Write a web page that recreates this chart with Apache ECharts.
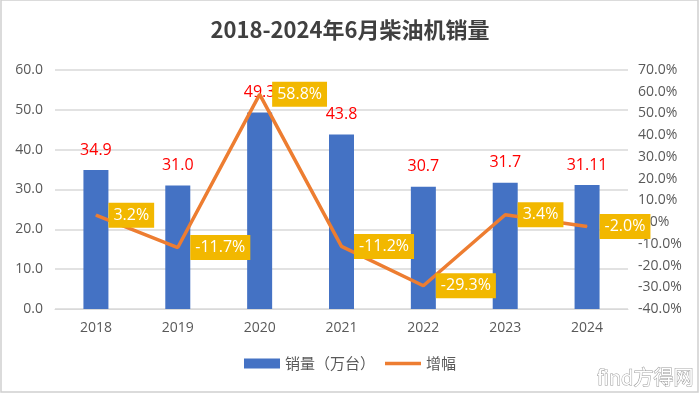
<!DOCTYPE html>
<html lang="zh-cn">
<head>
    <meta charset="utf-8">
    <title>2018-2024年6月柴油机销量</title>
    <style>
        html, body { margin: 0; padding: 0; background: #fff; }
        #main { width: 700px; height: 396px; }
    </style>
</head>
<body>
<div id="main"></div>
<script src="https://cdn.jsdelivr.net/npm/echarts@6/dist/echarts.min.js"></script>
<script type="text/javascript">
    // 数据
    var years = ['2018', '2019', '2020', '2021', '2022', '2023', '2024'];
    var salesData = [34.9, 31.0, 49.3, 43.8, 30.7, 31.7, 31.11];
    var salesLabels = ['34.9', '31.0', '49.3', '43.8', '30.7', '31.7', '31.11'];
    var growthData = [3.2, -11.7, 58.8, -11.2, -29.3, 3.4, -2.0];

    var font = 'Open Sans, Noto Sans CJK SC, sans-serif';
    var gray = '#595959';

    var myChart = echarts.init(document.getElementById('main'));
    var option = {
        animation: false,
        title: {
            text: '2018-2024年6月柴油机销量',
            left: 'center',
            top: 14,
            textStyle: {
                fontFamily: 'Noto Sans CJK SC, sans-serif',
                fontSize: 22,
                fontWeight: 'bold',
                color: '#404040'
            }
        },
        grid: { left: 55, right: 72, top: 70, bottom: 87 },
        legend: {
            bottom: 20,
            left: 'center',
            itemGap: 10,
            textStyle: { color: gray, fontSize: 15, fontFamily: 'Noto Sans CJK SC, sans-serif' },
            data: [
                { name: '销量（万台）', icon: 'rect', itemStyle: { color: '#4472C4' } },
                { name: '增幅', icon: 'path://M0,0H36V3.5H0Z', itemStyle: { color: '#ED7D31' } }
            ],
            itemWidth: 36,
            itemHeight: 10
        },
        xAxis: {
            type: 'category',
            data: years,
            axisLine: { lineStyle: { color: '#d9d9d9', width: 1 } },
            axisTick: { show: false },
            axisLabel: { color: gray, fontSize: 14, fontFamily: font, margin: 12 }
        },
        yAxis: [
            {
                type: 'value',
                min: 0,
                max: 60,
                interval: 10,
                axisLabel: {
                    color: gray, fontSize: 14, fontFamily: font, margin: 12,
                    formatter: function (v) { return v.toFixed(1); }
                },
                splitLine: { lineStyle: { color: '#d9d9d9', width: 1.5 } }
            },
            {
                type: 'value',
                min: -40,
                max: 70,
                interval: 10,
                axisLabel: {
                    color: gray, fontSize: 14, fontFamily: font, margin: 10,
                    formatter: function (v) { return v.toFixed(1) + '%'; }
                },
                splitLine: { show: false }
            }
        ],
        series: [
            {
                name: '销量（万台）',
                type: 'bar',
                data: salesData,
                barWidth: 25,
                itemStyle: { color: '#4472C4' },
                label: {
                    show: true,
                    position: 'top',
                    distance: 12,
                    color: '#FF0000',
                    fontSize: 16,
                    fontFamily: font,
                    formatter: function (p) { return salesLabels[p.dataIndex]; }
                },
                z: 2
            },
            {
                name: '增幅',
                type: 'line',
                yAxisIndex: 1,
                data: growthData,
                symbol: 'circle',
                symbolSize: 1,
                showSymbol: true,
                lineStyle: { color: '#ED7D31', width: 3.5 },
                itemStyle: { color: '#ED7D31' },
                label: {
                    show: true,
                    position: 'right',
                    distance: 12,
                    color: '#fff',
                    fontSize: 16,
                    fontFamily: font,
                    backgroundColor: '#F2B800',
                    padding: [5, 5, 4, 5],
                    formatter: function (p) { return p.value.toFixed(1) + '%'; }
                },
                z: 5
            }
        ],
        graphic: [
            {
                type: 'rect',
                shape: { x: 1, y: 0, width: 697, height: 392 },
                style: { fill: 'none', stroke: '#d0d0d0', lineWidth: 1.5 },
                silent: true
            },
            {
                type: 'text',
                right: 6,
                bottom: 8,
                style: {
                    text: 'find方得网',
                    fill: '#fff',
                    stroke: '#9a9a9a',
                    lineWidth: 1,
                    fontSize: 20,
                    fontFamily: 'Noto Sans CJK SC, sans-serif'
                },
                silent: true
            }
        ]
    };
    myChart.setOption(option);
</script>
</body>
</html>
